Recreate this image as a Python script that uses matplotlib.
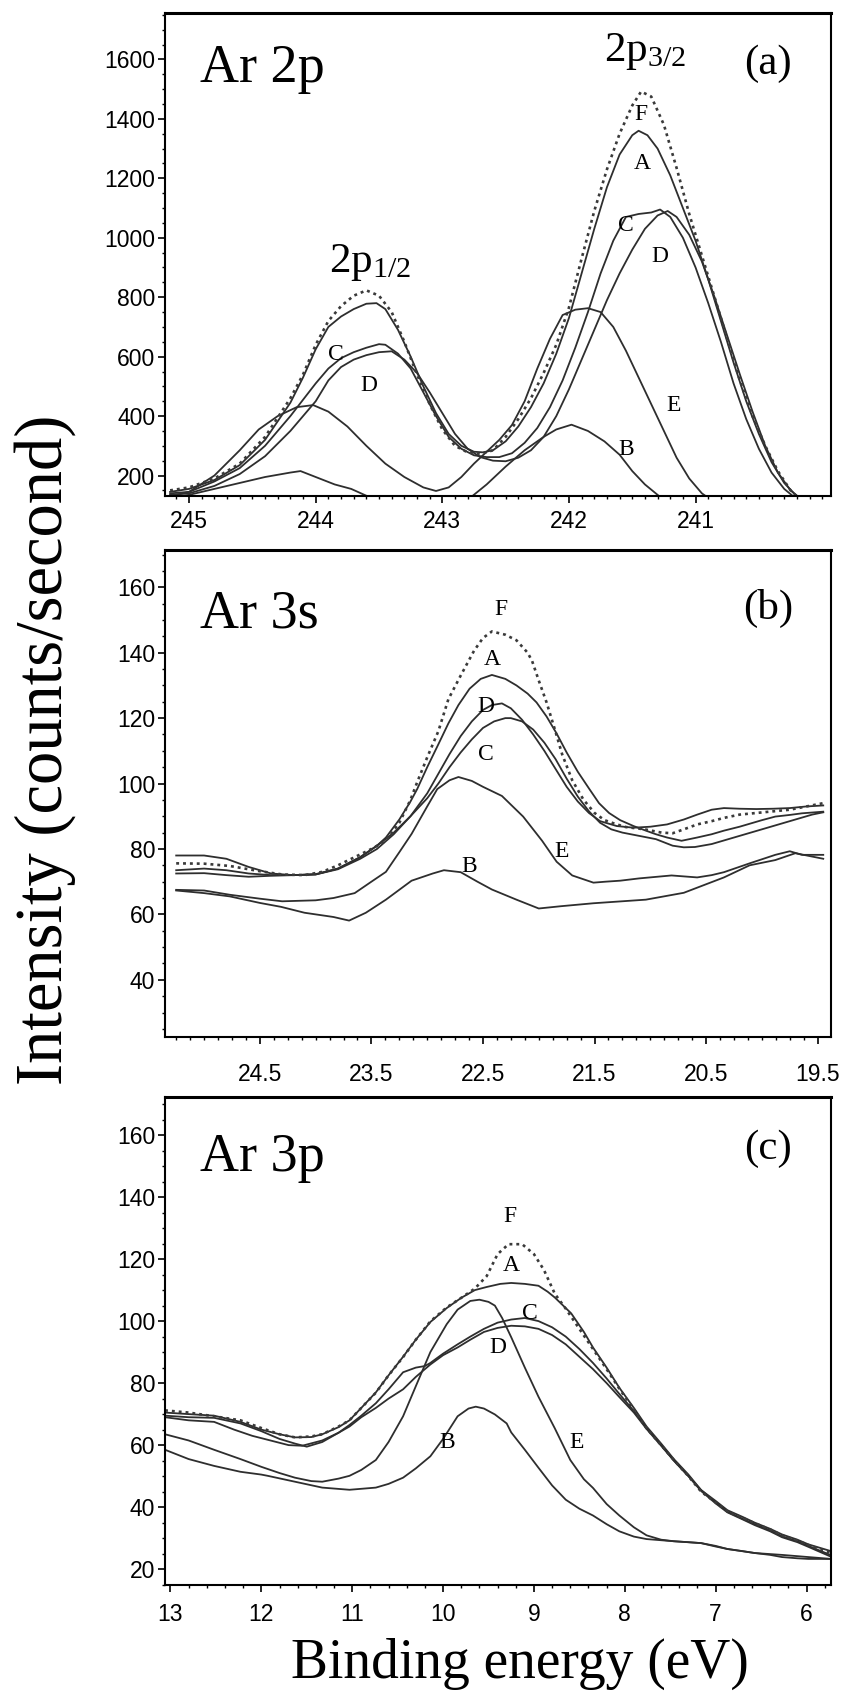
import matplotlib
matplotlib.use("Agg")
import matplotlib.pyplot as plt
from matplotlib.ticker import MultipleLocator

plt.rcParams['font.family'] = 'Liberation Sans'
plt.rcParams['mathtext.fontset'] = 'custom'
plt.rcParams['mathtext.rm'] = 'Liberation Serif'
plt.rcParams['mathtext.it'] = 'Liberation Serif:italic'

# ---- Ar 2p ----
a_F_ev = [245.15, 245.0, 244.8, 244.6, 244.4, 244.2, 244.1, 244.0, 243.9, 243.8, 243.7, 243.6, 243.5, 243.4, 243.3,
          243.2, 243.1, 243.0, 242.9, 242.8, 242.7, 242.6, 242.5, 242.4, 242.3, 242.2, 242.1, 242.0, 241.9, 241.8,
          241.7, 241.6, 241.5, 241.43, 241.35, 241.25, 241.15, 241.05, 240.95, 240.85, 240.75, 240.65, 240.55,
          240.45, 240.35, 240.25, 240.15, 240.0]
a_F = [150, 160, 190, 240, 330, 460, 540, 640, 720, 770, 805, 823, 805, 750, 650,
       540, 440, 355, 300, 278, 272, 285, 330, 390, 460, 545, 640, 765, 930, 1090,
       1230, 1350, 1445, 1492, 1475, 1380, 1235, 1080, 940, 800, 660, 520, 400,
       300, 215, 150, 110, 100]

a_A_ev = [245.15, 245.0, 244.8, 244.6, 244.4, 244.2, 244.1, 244.0, 243.9, 243.8, 243.7, 243.6, 243.52, 243.45,
          243.35, 243.25, 243.15, 243.05, 242.95, 242.85, 242.75, 242.68, 242.6, 242.5, 242.4, 242.3, 242.2,
          242.1, 242.0, 241.9, 241.8, 241.7, 241.6, 241.5, 241.45, 241.38, 241.3, 241.2, 241.1, 241.0, 240.9,
          240.8, 240.7, 240.6, 240.5, 240.4, 240.3, 240.2, 240.1, 240.0]
a_A = [145, 155, 185, 235, 320, 445, 530, 625, 700, 735, 760, 778, 780, 760,
       690, 600, 500, 410, 340, 300, 280, 278, 285, 315, 365, 430, 510,
       610, 730, 880, 1030, 1170, 1280, 1345, 1360, 1345, 1300, 1210, 1100, 990, 860,
       720, 580, 450, 340, 245, 175, 130, 105, 100]

a_C_ev = [245.15, 245.0, 244.8, 244.6, 244.4, 244.2, 244.0, 243.9, 243.8, 243.7, 243.6, 243.5, 243.45, 243.35,
          243.25, 243.15, 243.05, 242.95, 242.85, 242.75, 242.65, 242.55, 242.45, 242.35, 242.25, 242.15,
          242.05, 241.95, 241.85, 241.75, 241.65, 241.55, 241.45, 241.35, 241.28, 241.2, 241.1, 241.0, 240.9,
          240.8, 240.7, 240.6, 240.5, 240.4, 240.3, 240.2, 240.1]
a_C = [140, 145, 180, 225, 300, 400, 510, 560, 595, 615, 630, 642, 640, 610,
       560, 480, 400, 330, 290, 268, 262, 262, 275, 310, 360, 430,
       520, 630, 750, 880, 990, 1070, 1080, 1085, 1095, 1070, 1000, 900, 780,
       650, 510, 390, 290, 210, 155, 120, 100]

a_D_ev = [245.15, 245.0, 244.8, 244.6, 244.4, 244.2, 244.0, 243.9, 243.8, 243.7, 243.6, 243.5, 243.4, 243.3,
          243.2, 243.1, 243.0, 242.9, 242.8, 242.7, 242.6, 242.5, 242.4, 242.3, 242.2, 242.1, 242.0, 241.9,
          241.8, 241.7, 241.6, 241.5, 241.4, 241.3, 241.22, 241.15, 241.05, 240.95, 240.85, 240.75, 240.65,
          240.55, 240.45, 240.35, 240.25, 240.15, 240.05]
a_D = [135, 140, 165, 205, 265, 350, 450, 520, 565, 590, 605, 615, 618, 590,
       545, 480, 410, 340, 290, 262, 250, 248, 260, 285, 330, 400, 490, 590,
       690, 790, 880, 960, 1030, 1075, 1090, 1070, 1010, 920, 800, 670, 540,
       415, 300, 210, 150, 115, 100]

a_E_ev = [245.15, 245.0, 244.8, 244.6, 244.45, 244.3, 244.15, 244.02, 243.9, 243.75, 243.6, 243.45, 243.3,
          243.15, 243.05, 242.95, 242.85, 242.75, 242.65, 242.55, 242.45, 242.35, 242.25, 242.15, 242.05,
          241.95, 241.85, 241.75, 241.65, 241.55, 241.45, 241.35, 241.25, 241.15, 241.05, 240.95, 240.85, 240.7]
a_E = [130, 145, 200, 285, 355, 400, 430, 437, 415, 365, 300, 240, 195,
       160, 148, 160, 195, 240, 280, 320, 370, 450, 560, 660, 740,
       758, 763, 750, 700, 620, 530, 440, 350, 260, 190, 140, 110, 100]

a_B_ev = [245.15, 245.0, 244.8, 244.6, 244.4, 244.2, 244.12, 244.0, 243.85, 243.72, 243.6, 243.5, 243.3, 242.9,
          242.78, 242.65, 242.5, 242.35, 242.2, 242.1, 241.98, 241.85, 241.72, 241.6, 241.5, 241.4, 241.3, 241.2]
a_B = [125, 135, 155, 175, 195, 210, 215, 195, 170, 155, 132, 110, 100, 100,
       125, 170, 230, 285, 330, 355, 371, 350, 315, 270, 215, 170, 135, 100]

a_xticks = [245, 244, 243, 242, 241]
a_yticks = [200, 400, 600, 800, 1000, 1200, 1400, 1600]

# ---- Ar 3s ----
b_F_ev = [25.25, 25.0, 24.77, 24.5, 24.3, 24.1, 23.94, 23.8, 23.65, 23.5, 23.37, 23.25, 23.15, 23.09, 23.0, 22.9,
          22.81, 22.7, 22.58, 22.5, 22.42, 22.3, 22.2, 22.1, 22.06, 22.0, 21.93, 21.86, 21.79, 21.7, 21.6, 21.5,
          21.41, 21.3, 21.22, 21.05, 20.9, 20.8, 20.7, 20.58, 20.45, 20.34, 20.2, 20.05, 19.9, 19.75, 19.6, 19.45]
b_F = [75.6, 75.5, 74.8, 73.2, 72.2, 72.0, 73.0, 75.0, 77.5, 80.0, 82.5, 88.0, 95.0, 100.4, 108.0, 116.0,
       125.8, 133.0, 140.6, 144.5, 146.5, 145.5, 143.8, 140.0, 137.5, 131.5, 124.8, 117.0, 108.9, 101.0, 95.1, 91.0,
       88.8, 87.5, 86.7, 86.0, 85.0, 84.8, 86.0, 87.5, 88.5, 89.5, 90.5, 91.0, 91.5, 92.0, 93.0, 94.0]

b_A_ev = [25.25, 25.0, 24.8, 24.6, 24.4, 24.2, 24.0, 23.8, 23.6, 23.45, 23.37, 23.25, 23.15, 23.09, 23.0, 22.9,
          22.81, 22.72, 22.62, 22.52, 22.42, 22.3, 22.2, 22.1, 22.02, 21.93, 21.84, 21.75, 21.65, 21.55, 21.46,
          21.37, 21.27, 21.15, 21.04, 20.95, 20.85, 20.72, 20.58, 20.45, 20.34, 20.2, 20.11, 20.0, 19.88, 19.75,
          19.64, 19.45]
b_A = [78.0, 78.0, 77.0, 74.5, 72.5, 72.0, 72.3, 74.0, 77.5, 81.0, 83.5, 89.0, 94.5, 98.3, 105.0, 112.0,
       118.4, 124.0, 129.0, 132.0, 133.2, 132.0, 130.0, 127.5, 124.8, 120.5, 115.3, 109.5, 103.6, 98.5, 94.0,
       91.0, 88.8, 87.0, 85.6, 84.5, 83.5, 82.5, 83.5, 84.5, 85.6, 86.8, 87.7, 88.8, 89.9, 90.4,
       90.9, 91.4]

b_D_ev = [25.25, 25.0, 24.8, 24.6, 24.4, 24.2, 24.0, 23.8, 23.6, 23.45, 23.3, 23.15, 23.0, 22.9, 22.8, 22.7,
          22.6, 22.5, 22.42, 22.33, 22.25, 22.15, 22.05, 21.95, 21.85, 21.75, 21.65, 21.55, 21.45, 21.3, 21.15,
          21.0, 20.85, 20.7, 20.58, 20.45, 20.34, 20.2, 20.05, 19.9, 19.75, 19.6, 19.45]
b_D = [73.5, 74.0, 73.5, 72.5, 72.0, 72.0, 72.2, 73.8, 77.0, 80.0, 84.5, 90.0, 97.0, 103.0, 109.0, 114.5,
       119.0, 122.5, 124.0, 124.5, 123.0, 119.5, 115.0, 110.0, 104.5, 99.0, 94.5, 91.0, 88.5, 87.0, 86.5,
       86.8, 87.5, 89.0, 90.5, 92.0, 92.5, 92.3, 92.2, 92.3, 92.5, 93.0, 93.3]

b_C_ev = [25.25, 25.0, 24.8, 24.6, 24.4, 24.2, 24.0, 23.8, 23.6, 23.45, 23.3, 23.15, 23.0, 22.9, 22.8, 22.7,
          22.6, 22.5, 22.4, 22.3, 22.25, 22.15, 22.05, 21.95, 21.85, 21.75, 21.65, 21.55, 21.45, 21.35, 21.25,
          21.1, 20.95, 20.8, 20.7, 20.6, 20.45, 20.3, 20.15, 20.0, 19.85, 19.7, 19.55, 19.45]
b_C = [72.5, 72.6, 72.0, 71.5, 71.8, 72.0, 72.2, 74.0, 77.5, 81.0, 85.0, 90.0, 95.5, 100.0, 105.0, 109.5,
       113.5, 117.0, 119.0, 120.0, 120.0, 119.0, 116.5, 112.5, 107.5, 101.5, 96.0, 91.5, 88.0, 86.0, 85.0,
       84.0, 83.0, 81.0, 80.5, 80.6, 81.5, 83.0, 84.5, 86.0, 87.5, 89.0, 90.5, 91.2]

b_E_ev = [25.25, 25.0, 24.77, 24.5, 24.3, 24.0, 23.84, 23.65, 23.5, 23.37, 23.25, 23.14, 23.0, 22.91, 22.8,
          22.72, 22.6, 22.5, 22.33, 22.14, 21.97, 21.84, 21.7, 21.51, 21.4, 21.27, 21.1, 20.81, 20.58, 20.45,
          20.34, 20.11, 19.88, 19.75, 19.64, 19.45]
b_E = [67.5, 67.3, 66.0, 64.8, 64.0, 64.3, 65.0, 66.5, 70.0, 73.0, 79.0, 84.6, 93.0, 98.3, 101.0,
       102.0, 100.8, 99.0, 96.2, 89.9, 82.5, 76.1, 71.9, 69.7, 70.0, 70.3, 71.0, 71.9, 71.3, 72.0,
       72.9, 75.6, 78.2, 79.3, 78.2, 78.2]

b_B_ev = [25.25, 25.0, 24.77, 24.5, 24.31, 24.1, 23.84, 23.7, 23.55, 23.37, 23.14, 22.95, 22.85, 22.7, 22.55,
          22.42, 22.2, 22.0, 21.8, 21.51, 21.04, 20.7, 20.34, 20.11, 19.88, 19.7, 19.45]
b_B = [67.3, 66.5, 65.5, 63.5, 62.3, 60.5, 59.2, 58.1, 60.5, 64.5, 70.3, 72.5, 73.5, 72.9, 70.0,
       67.6, 64.5, 61.8, 62.5, 63.4, 64.5, 66.6, 71.3, 75.0, 76.6, 78.7, 77.0]

b_xticks = [24.5, 23.5, 22.5, 21.5, 20.5, 19.5]
b_yticks = [40, 60, 80, 100, 120, 140, 160]

# ---- Ar 3p ----
c_F_ev = [13.06, 12.8, 12.52, 12.23, 12.0, 11.8, 11.63, 11.45, 11.33, 11.15, 11.03, 10.9, 10.74, 10.6, 10.44,
          10.3, 10.14, 9.96, 9.8, 9.65, 9.52, 9.4, 9.28, 9.13, 9.0, 8.89, 8.77, 8.65, 8.5, 8.35, 8.2, 8.06, 7.9,
          7.76, 7.6, 7.46, 7.3, 7.16, 7.0, 6.87, 6.7, 6.57, 6.4, 6.27, 6.1, 5.98, 5.73]
c_F = [71.2, 70.5, 69.3, 68.0, 65.5, 63.5, 62.5, 62.8, 63.5, 66.0, 68.0, 72.0, 76.9, 82.5, 88.4,
       94.0, 99.9, 104.4, 107.5, 110.5, 114.5, 121.6, 124.8, 124.8, 121.6, 116.5, 108.8, 104.0, 97.5, 91.0, 84.5,
       78.2, 71.5, 65.4, 60.0, 55.2, 50.0, 45.0, 41.5, 38.6, 36.5, 34.8, 32.8, 30.9, 29.2, 27.8, 25.2]

c_A_ev = [13.06, 12.8, 12.52, 12.23, 12.0, 11.8, 11.63, 11.45, 11.33, 11.15, 11.03, 10.9, 10.74, 10.6, 10.44,
          10.3, 10.14, 9.96, 9.8, 9.65, 9.52, 9.37, 9.25, 9.1, 8.95, 8.85, 8.77, 8.59, 8.45, 8.35, 8.2, 8.06, 7.9,
          7.76, 7.6, 7.46, 7.3, 7.16, 7.0, 6.87, 6.7, 6.57, 6.4, 6.27, 6.1, 5.98, 5.73]
c_A = [70.5, 70.0, 69.5, 67.5, 65.0, 63.5, 62.5, 62.6, 63.5, 65.8, 68.0, 72.0, 77.0, 82.5, 88.5,
       94.0, 99.7, 104.2, 107.5, 110.0, 111.0, 112.0, 112.3, 112.0, 111.4, 109.5, 107.6, 102.5, 96.5, 91.5, 85.0,
       78.5, 72.0, 66.0, 60.5, 55.5, 50.5, 45.5, 42.0, 39.0, 36.8, 35.0, 33.0, 31.2, 29.5, 28.0, 25.8]

c_C_ev = [13.06, 12.8, 12.52, 12.23, 12.0, 11.8, 11.63, 11.5, 11.33, 11.15, 11.03, 10.9, 10.74, 10.6, 10.44,
          10.3, 10.2, 10.14, 10.0, 9.84, 9.7, 9.55, 9.4, 9.25, 9.1, 8.95, 8.8, 8.65, 8.5, 8.35, 8.2, 8.06, 7.9,
          7.76, 7.6, 7.46, 7.3, 7.16, 7.0, 6.87, 6.7, 6.57, 6.4, 6.27, 6.1, 5.98, 5.73]
c_C = [69.5, 69.0, 68.8, 67.0, 64.5, 62.0, 60.5, 59.5, 61.0, 64.0, 66.5, 69.5, 73.5, 78.0, 83.5,
       85.0, 85.5, 86.5, 89.5, 92.5, 95.0, 97.5, 99.5, 100.5, 101.0, 100.0, 98.0, 95.0, 91.0, 86.5, 81.5, 76.5, 71.0,
       65.5, 60.0, 55.0, 50.0, 45.5, 41.5, 38.5, 36.2, 34.5, 32.5, 30.6, 29.0, 27.5, 24.5]

c_D_ev = [13.06, 12.8, 12.52, 12.3, 12.1, 11.9, 11.7, 11.55, 11.33, 11.15, 11.03, 10.9, 10.74, 10.6, 10.44,
          10.3, 10.14, 10.0, 9.84, 9.7, 9.55, 9.4, 9.25, 9.1, 8.95, 8.8, 8.65, 8.5, 8.35, 8.2, 8.06, 7.9,
          7.76, 7.6, 7.46, 7.3, 7.16, 7.0, 6.87, 6.7, 6.57, 6.4, 6.27, 6.1, 5.98, 5.73]
c_D = [69.0, 68.0, 67.5, 65.0, 63.0, 61.5, 60.0, 59.8, 61.5, 64.0, 66.0, 69.0, 72.0, 75.0, 78.0,
       82.0, 86.0, 89.0, 91.5, 94.0, 96.5, 97.8, 98.5, 98.3, 97.5, 95.5, 92.5, 88.5, 84.5, 80.0, 75.5, 70.5,
       65.2, 59.8, 55.0, 50.0, 45.2, 41.2, 38.3, 36.0, 34.2, 32.2, 30.3, 28.7, 27.2, 24.0]

c_E_ev = [13.06, 12.8, 12.52, 12.23, 12.0, 11.8, 11.63, 11.45, 11.33, 11.15, 11.03, 10.9, 10.74, 10.6, 10.44,
          10.3, 10.14, 9.96, 9.84, 9.7, 9.6, 9.5, 9.43, 9.35, 9.25, 9.1, 8.95, 8.77, 8.6, 8.45, 8.35, 8.2, 8.06,
          7.9, 7.76, 7.6, 7.46, 7.3, 7.16, 7.0, 6.87, 6.7, 6.57, 6.4, 6.27, 6.1, 5.98, 5.73]
c_E = [63.5, 61.5, 58.5, 55.5, 53.0, 51.0, 49.5, 48.4, 48.2, 49.2, 50.1, 52.0, 55.2, 61.0, 69.3,
       79.0, 90.0, 99.0, 103.7, 106.5, 106.9, 106.2, 105.0, 101.0, 94.8, 85.0, 75.6, 65.4, 55.2, 49.0, 46.2, 41.0, 37.3,
       33.5, 30.9, 29.5, 29.0, 28.7, 28.4, 27.5, 26.5, 25.8, 25.2, 24.6, 23.9, 23.5, 23.3, 23.3]

c_B_ev = [13.06, 12.8, 12.52, 12.23, 12.0, 11.93, 11.63, 11.33, 11.03, 10.74, 10.6, 10.44, 10.3, 10.14, 10.0,
          9.84, 9.72, 9.64, 9.55, 9.43, 9.3, 9.25, 9.1, 8.95, 8.8, 8.65, 8.5, 8.35, 8.2, 8.06, 7.9, 7.76, 7.46,
          7.16, 7.0, 6.87, 6.57, 6.27, 5.98, 5.73]
c_B = [58.5, 55.5, 53.3, 51.4, 50.5, 50.1, 48.2, 46.3, 45.6, 46.3, 47.5, 49.5, 52.5, 56.4, 62.0,
       69.3, 71.8, 72.4, 71.8, 69.9, 67.0, 64.1, 58.5, 52.7, 47.0, 42.4, 39.5, 37.3, 34.5, 32.2, 30.5, 29.7, 29.0,
       28.4, 27.3, 26.5, 25.2, 24.6, 23.9, 23.3]

c_xticks = [13, 12, 11, 10, 9, 8, 7, 6]
c_yticks = [20, 40, 60, 80, 100, 120, 140, 160]

line_col = '#2e2e2e'
serif = 'Liberation Serif'

fig = plt.figure(figsize=(8.42, 16.97), dpi=100)
ax_a = fig.add_axes([0.196, 0.7077, 0.791, 0.2846])
ax_b = fig.add_axes([0.196, 0.3889, 0.791, 0.2870])
ax_c = fig.add_axes([0.196, 0.0662, 0.791, 0.2876])


def draw_panel(ax, curves, dotted):
    for ev, y in curves:
        ax.plot(ev, y, color=line_col, lw=1.3)
    ax.plot(dotted[0], dotted[1], color='#3a3a3a', lw=1.9, linestyle=(0, (1.1, 1.5)))
    for s in ax.spines.values():
        s.set_linewidth(1.5)
    ax.spines['top'].set_linewidth(2.2)
    ax.tick_params(which='major', direction='out', length=5, width=1.2, labelsize=16.5)
    ax.tick_params(which='minor', direction='out', length=2.5, width=1.0)
    ax.tick_params(axis='y', pad=2)


draw_panel(ax_a, [(a_A_ev, a_A), (a_C_ev, a_C), (a_D_ev, a_D), (a_E_ev, a_E), (a_B_ev, a_B)], (a_F_ev, a_F))
ax_a.set_xlim(245.19, 239.93)
ax_a.set_ylim(131, 1756)
ax_a.set_xticks(a_xticks)
ax_a.set_xticklabels([str(t) for t in a_xticks])
ax_a.set_yticks(a_yticks)
ax_a.xaxis.set_minor_locator(MultipleLocator(0.1))
ax_a.yaxis.set_minor_locator(MultipleLocator(50))
ax_a.tick_params(axis='x', pad=5)

draw_panel(ax_b, [(b_A_ev, b_A), (b_C_ev, b_C), (b_D_ev, b_D), (b_E_ev, b_E), (b_B_ev, b_B)], (b_F_ev, b_F))
ax_b.set_xlim(25.35, 19.38)
ax_b.set_ylim(22.5, 171.4)
ax_b.set_xticks(b_xticks)
ax_b.set_xticklabels([str(t) for t in b_xticks])
ax_b.set_yticks(b_yticks)
ax_b.xaxis.set_minor_locator(MultipleLocator(0.125))
ax_b.yaxis.set_minor_locator(MultipleLocator(5))
ax_b.tick_params(axis='x', pad=14)

draw_panel(ax_c, [(c_A_ev, c_A), (c_C_ev, c_C), (c_D_ev, c_D), (c_E_ev, c_E), (c_B_ev, c_B)], (c_F_ev, c_F))
ax_c.set_xlim(13.06, 5.73)
ax_c.set_ylim(15.0, 172.4)
ax_c.set_xticks(c_xticks)
ax_c.set_xticklabels([str(t) for t in c_xticks])
ax_c.set_yticks(c_yticks)
ax_c.xaxis.set_minor_locator(MultipleLocator(0.2))
ax_c.yaxis.set_minor_locator(MultipleLocator(5))
ax_c.tick_params(axis='x', pad=8)

# panel titles and tags
for ax, name, tag, ty, tagy in [(ax_a, 'Ar 2p', '(a)', 0.857, 0.896),
                                (ax_b, 'Ar 3s', '(b)', 0.840, 0.879),
                                (ax_c, 'Ar 3p', '(c)', 0.848, 0.893)]:
    ax.text(0.053, ty, name, transform=ax.transAxes, family=serif, fontsize=39, va='baseline')
    ax.text(0.905, tagy, tag, transform=ax.transAxes, family=serif, fontsize=31, ha='center', va='center')

ax_a.text(241.40, 1595, '2p$_{\\mathrm{3/2}}$', family=serif, fontsize=31, ha='center', va='baseline')
ax_a.text(243.57, 884, '2p$_{\\mathrm{1/2}}$', family=serif, fontsize=31, ha='center', va='baseline')

# curve letters
a_labels = [('F', 241.43, 1414), ('A', 241.42, 1251), ('C', 241.55, 1040), ('D', 241.28, 937),
            ('E', 241.17, 437), ('B', 241.55, 286), ('C', 243.84, 606), ('D', 243.58, 503)]
b_labels = [('F', 22.34, 153.3), ('A', 22.42, 138.0), ('D', 22.47, 123.7), ('C', 22.47, 108.9),
            ('E', 21.8, 79.3), ('B', 22.62, 74.5)]
c_labels = [('F', 9.26, 133.7), ('A', 9.25, 117.8), ('C', 9.04, 102.4), ('D', 9.4, 91.6),
            ('B', 9.96, 61.0), ('E', 8.53, 61.0)]
for ax, labs in [(ax_a, a_labels), (ax_b, b_labels), (ax_c, c_labels)]:
    for s, x, y in labs:
        ax.text(x, y, s, family=serif, fontsize=17, ha='center', va='center')

fig.text(45 / 842, 0.558, 'Intensity (counts/second)', rotation=90, family=serif, fontsize=48,
         ha='center', va='center')
fig.text(520 / 842, 1 - 1678 / 1697, 'Binding energy (eV)', family=serif, fontsize=40,
         ha='center', va='baseline')

fig.savefig('out.png', dpi=100)
